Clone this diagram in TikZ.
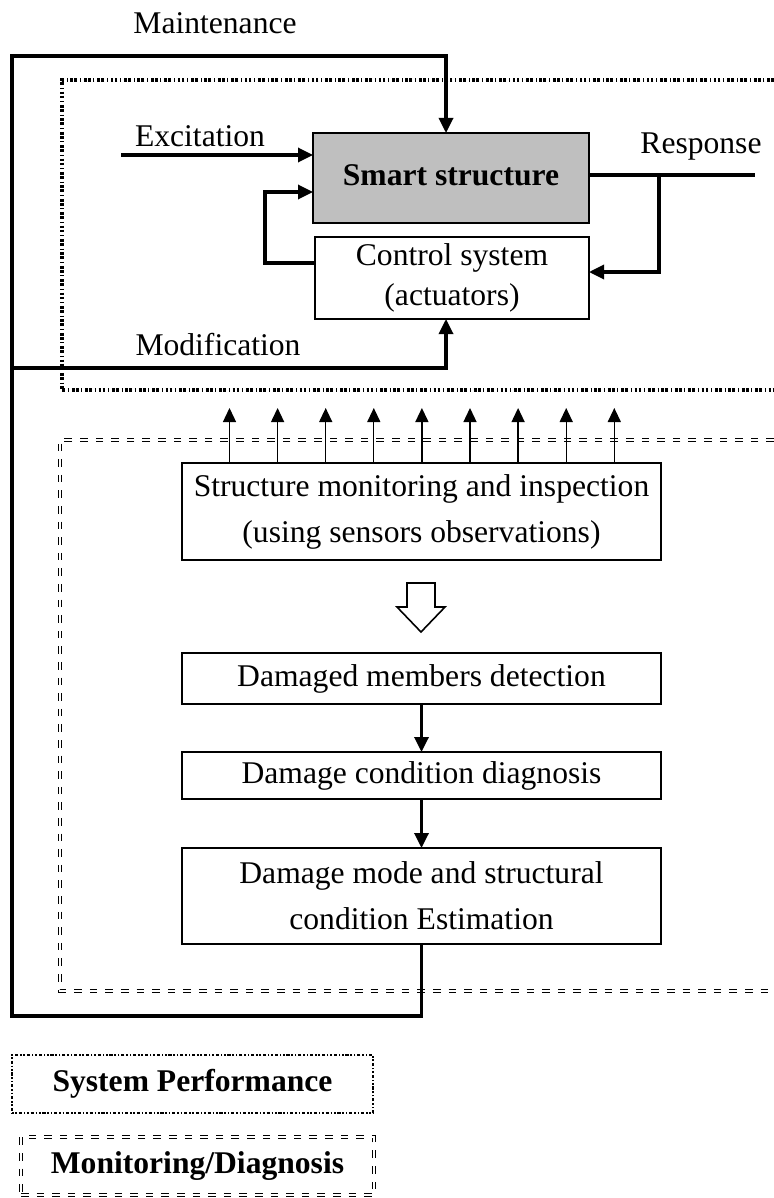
\documentclass[tikz,border=0pt]{standalone}
\usepackage{fontspec}
\setmainfont{Liberation Serif}
\usetikzlibrary{arrows.meta}
\begin{document}
\begin{tikzpicture}[x=0.5pt,y=-0.5pt,
  txt/.style={font=\fontsize{15.8}{23}\selectfont},
  box/.style={txt, draw, line width=0.85pt, inner sep=0pt, outer sep=0pt, align=center},
  lbl/.style={txt, inner sep=0pt, anchor=base},
  conn/.style={line width=1.65pt},
  arr/.style={conn, -{Triangle[length=7.5pt,width=7pt]}},
  sens/.style={line width=0.65pt, -{Triangle[length=7pt,width=6.5pt]}},
  perfline/.style={line width=1.6pt, dash pattern=on 1.4pt off 0.6pt on 1.4pt off 1.4pt on 0.5pt off 1.4pt},
  perfleg/.style={line width=1.1pt, dash pattern=on 0.8pt off 0.9pt on 0.8pt off 0.9pt on 1.6pt off 0.9pt},
  monline/.style={line width=0.9pt, double=white, double distance=0.6pt, dash pattern=on 3.8pt off 4pt}]
\useasboundingbox (0,0) rectangle (774,1198);
% region frames
\draw[perfline] (774,80) -- (62,80) -- (62,390) -- (774,390);
\draw[monline] (774,440) -- (60,440) -- (60,991) -- (774,991);
% boxes
\node[box, fill=black!25, minimum width=138pt, minimum height=45pt] (smart) at (451,178) {\raisebox{3pt}{\bfseries Smart structure}};
\node[box, fill=white, minimum width=137pt, minimum height=41pt] (control) at (452,278) {Control system\\[-3pt](actuators)};
\node[box, fill=white, minimum width=239.5pt, minimum height=48.5pt] (monitor) at (421.5,511.5) {Structure monitoring and inspection\\(using sensors observations)};
\node[box, minimum width=239.5pt, minimum height=25.5pt] (detect) at (421.5,678.5) {Damaged members detection};
\node[box, minimum width=239.5pt, minimum height=23.5pt] (diag) at (421.5,775.5) {Damage condition diagnosis};
\node[box, minimum width=239.5pt, minimum height=48pt] (estim) at (421.5,896) {Damage mode and structural\\condition Estimation};
% labels
\node[lbl] (maint) at (215,34) {Maintenance};
\node[lbl] (excl) at (200,147) {Excitation};
\node[lbl] (respl) at (701,154) {Response};
\node[lbl] (modl) at (218,355) {Modification};
% coordinates
\coordinate (bl) at (12,1016);
\coordinate (tl) at (12,56);
\coordinate (ml) at (12,368);
\coordinate (exc) at (121,155);
\coordinate (resp) at (755,175);
\coordinate (br) at (659,175);
% outer loop
\draw[arr] (estim.south) |- (bl) -- (tl) -| ([xshift=-2.5pt]smart.north);
\draw[arr] (ml) -| ([xshift=-3pt]control.south);
% excitation
\draw[arr] (exc) -- (exc -| smart.west);
% feedback
\draw[arr] ([yshift=7.5pt]control.west) -- ++(-25pt,0) |- ([yshift=-7pt]smart.west);
% response
\draw[conn] (smart.east |- resp) -- (resp);
\draw[arr] (br) |- ([yshift=3pt]control.east);
% sensors
\foreach \i in {0,...,8} {
  \draw[sens] (229.5+48.1*\i,463) coordinate (s\i) -- (229.5+48.1*\i,408);
}
% hollow arrow
\coordinate (ha) at (421,583);
\draw[line width=0.8pt, fill=white] (ha) ++(-14,0) -- ++(28,0) -- ++(0,24) -- ++(10,0) -- (421,632) -- (397,607) -- (407,607) -- cycle;
% chain
\draw[arr] (detect) -- (diag);
\draw[arr] (diag) -- (estim);
% legend
\node[box, perfleg, minimum width=180.5pt, minimum height=29pt] (perf) at (192.5,1084) {\bfseries System Performance};
\node[box, monline, minimum width=176.5pt, minimum height=29pt] (monleg) at (197.5,1166) {\bfseries Monitoring/Diagnosis};
\end{tikzpicture}
\end{document}
